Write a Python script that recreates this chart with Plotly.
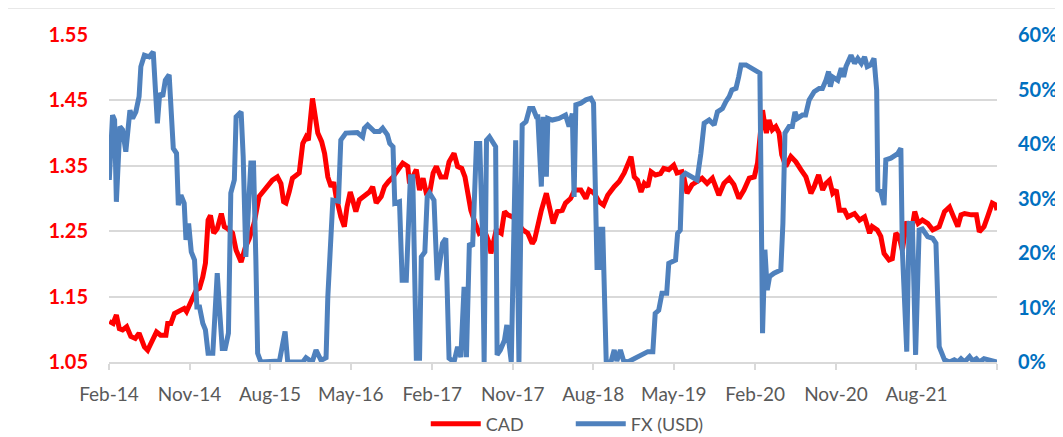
import plotly.graph_objects as go

# ---------------- data ----------------
cad_dates = [
    "2014-02-02", "2014-02-15", "2014-02-26", "2014-03-08", "2014-03-19", "2014-04-02", "2014-04-16",
    "2014-05-01", "2014-05-14", "2014-06-01", "2014-06-12", "2014-06-26", "2014-07-12", "2014-07-26",
    "2014-08-13", "2014-08-19", "2014-08-30", "2014-09-11", "2014-09-28", "2014-10-14", "2014-10-22",
    "2014-11-07", "2014-11-24", "2014-12-05", "2014-12-16", "2014-12-25", "2015-01-03", "2015-01-11",
    "2015-01-22", "2015-02-03", "2015-02-17", "2015-02-27", "2015-03-10", "2015-03-27", "2015-04-08",
    "2015-04-25", "2015-05-09", "2015-05-22", "2015-06-08", "2015-06-25", "2015-07-11", "2015-07-22",
    "2015-08-09", "2015-08-26", "2015-09-07", "2015-09-16", "2015-09-24", "2015-10-05", "2015-10-16",
    "2015-11-08", "2015-11-20", "2015-12-01", "2015-12-09", "2015-12-23", "2016-01-01", "2016-01-10",
    "2016-01-23", "2016-02-02", "2016-02-13", "2016-02-24", "2016-03-04", "2016-03-12", "2016-03-28",
    "2016-04-09", "2016-04-18", "2016-04-29", "2016-05-07", "2016-05-18", "2016-05-30", "2016-06-16",
    "2016-07-03", "2016-07-14", "2016-07-26", "2016-08-12", "2016-08-23", "2016-09-06", "2016-09-21",
    "2016-10-08", "2016-10-24", "2016-11-10", "2016-11-16", "2016-11-27", "2016-12-09", "2016-12-20",
    "2017-01-01", "2017-01-12", "2017-01-23", "2017-02-04", "2017-02-15", "2017-03-02", "2017-03-19",
    "2017-03-30", "2017-04-16", "2017-04-28", "2017-05-12", "2017-05-23", "2017-06-01", "2017-06-12",
    "2017-06-27", "2017-07-10", "2017-07-27", "2017-08-14", "2017-08-19", "2017-09-06", "2017-09-23",
    "2017-10-04", "2017-10-15", "2017-11-01", "2017-11-18", "2017-12-05", "2017-12-22", "2018-01-06",
    "2018-01-14", "2018-01-25", "2018-02-06", "2018-02-23", "2018-03-04", "2018-03-18", "2018-04-01",
    "2018-04-18", "2018-04-29", "2018-05-16", "2018-05-30", "2018-06-20", "2018-07-07", "2018-07-18",
    "2018-08-04", "2018-08-21", "2018-09-05", "2018-09-19", "2018-10-11", "2018-10-28", "2018-11-14",
    "2018-12-01", "2018-12-07", "2018-12-18", "2018-12-29", "2019-01-10", "2019-01-21", "2019-02-02",
    "2019-02-13", "2019-02-28", "2019-03-17", "2019-03-28", "2019-04-14", "2019-05-01", "2019-05-12",
    "2019-05-29", "2019-06-04", "2019-06-15", "2019-07-02", "2019-07-19", "2019-08-05", "2019-08-22",
    "2019-09-09", "2019-10-01", "2019-10-18", "2019-11-05", "2019-11-21", "2019-12-08", "2019-12-25",
    "2020-01-12", "2020-01-29", "2020-02-09", "2020-02-26", "2020-03-02", "2020-03-10", "2020-03-19",
    "2020-03-30", "2020-04-11", "2020-04-22", "2020-05-01", "2020-05-15", "2020-06-01", "2020-06-18",
    "2020-07-05", "2020-07-22", "2020-08-08", "2020-08-19", "2020-09-03", "2020-09-17", "2020-09-28",
    "2020-10-10", "2020-10-21", "2020-11-02", "2020-11-13", "2020-11-30", "2020-12-11", "2021-01-03",
    "2021-01-20", "2021-02-06", "2021-02-23", "2021-03-04", "2021-03-21", "2021-04-02", "2021-04-13",
    "2021-04-30", "2021-05-11", "2021-05-23", "2021-06-03", "2021-06-14", "2021-06-29", "2021-07-13",
    "2021-07-26", "2021-08-07", "2021-08-21", "2021-09-08", "2021-09-25", "2021-10-17", "2021-11-04",
    "2021-11-21", "2021-12-02", "2021-12-19", "2021-12-30", "2022-01-11", "2022-02-03", "2022-02-20",
    "2022-03-02", "2022-03-18", "2022-03-30", "2022-04-15", "2022-04-27", "2022-05-01",
]
cad_values = [
    1.112, 1.109, 1.122, 1.101, 1.099, 1.104, 1.089,
    1.086, 1.094, 1.073, 1.068, 1.081, 1.096, 1.091,
    1.091, 1.109, 1.109, 1.124, 1.129, 1.132, 1.127,
    1.145, 1.160, 1.163, 1.180, 1.201, 1.267, 1.274,
    1.247, 1.254, 1.277, 1.257, 1.254, 1.247, 1.221,
    1.203, 1.225, 1.238, 1.262, 1.303, 1.313, 1.318,
    1.328, 1.333, 1.323, 1.295, 1.293, 1.310, 1.331,
    1.339, 1.384, 1.394, 1.389, 1.453, 1.420, 1.400,
    1.387, 1.369, 1.333, 1.318, 1.325, 1.303, 1.272,
    1.257, 1.287, 1.310, 1.298, 1.280, 1.298, 1.303,
    1.310, 1.318, 1.293, 1.303, 1.318, 1.326, 1.333,
    1.344, 1.354, 1.349, 1.323, 1.333, 1.344, 1.313,
    1.331, 1.308, 1.308, 1.339, 1.349, 1.333, 1.333,
    1.356, 1.369, 1.349, 1.346, 1.333, 1.308, 1.282,
    1.262, 1.247, 1.252, 1.231, 1.216, 1.252, 1.247,
    1.280, 1.275, 1.272, 1.262, 1.252, 1.247, 1.231,
    1.237, 1.262, 1.282, 1.308, 1.287, 1.262, 1.280,
    1.282, 1.293, 1.300, 1.313, 1.313, 1.300, 1.313,
    1.308, 1.295, 1.290, 1.305, 1.318, 1.326, 1.339,
    1.356, 1.364, 1.333, 1.328, 1.310, 1.323, 1.318,
    1.341, 1.336, 1.338, 1.346, 1.344, 1.351, 1.339,
    1.341, 1.333, 1.308, 1.321, 1.326, 1.331, 1.323,
    1.331, 1.305, 1.323, 1.331, 1.321, 1.300, 1.313,
    1.331, 1.333, 1.354, 1.435, 1.420, 1.400, 1.420,
    1.405, 1.410, 1.400, 1.367, 1.349, 1.364, 1.356,
    1.344, 1.333, 1.308, 1.318, 1.336, 1.313, 1.323,
    1.328, 1.308, 1.313, 1.282, 1.282, 1.272, 1.277,
    1.267, 1.272, 1.247, 1.257, 1.252, 1.242, 1.216,
    1.206, 1.208, 1.247, 1.242, 1.221, 1.265, 1.244,
    1.280, 1.262, 1.267, 1.262, 1.252, 1.257, 1.280,
    1.287, 1.275, 1.257, 1.275, 1.277, 1.275, 1.275,
    1.249, 1.257, 1.272, 1.293, 1.290, 1.282,
]

fx_dates = [
    "2014-02-02", "2014-02-13", "2014-02-20", "2014-02-26", "2014-03-10", "2014-03-19", "2014-03-30",
    "2014-04-13", "2014-04-22", "2014-05-03", "2014-05-14", "2014-05-20", "2014-06-01", "2014-06-17",
    "2014-07-01", "2014-07-10", "2014-07-15", "2014-07-23", "2014-08-02", "2014-08-11", "2014-08-24",
    "2014-09-07", "2014-09-18", "2014-09-24", "2014-10-03", "2014-10-14", "2014-10-20", "2014-10-29",
    "2014-11-07", "2014-11-18", "2014-11-26", "2014-12-05", "2014-12-16", "2014-12-25", "2015-01-03",
    "2015-01-19", "2015-02-03", "2015-02-11", "2015-02-20", "2015-03-02", "2015-03-13", "2015-03-21",
    "2015-04-02", "2015-04-08", "2015-04-16", "2015-04-25", "2015-05-02", "2015-05-11", "2015-05-28",
    "2015-06-06", "2015-06-14", "2015-06-20", "2015-07-01", "2015-09-02", "2015-09-21", "2015-09-30",
    "2015-11-20", "2015-12-01", "2015-12-22", "2016-01-04", "2016-01-21", "2016-02-07", "2016-02-13",
    "2016-02-24", "2016-03-01", "2016-03-20", "2016-03-28", "2016-04-14", "2016-05-01", "2016-05-23",
    "2016-06-10", "2016-06-16", "2016-06-27", "2016-07-03", "2016-07-20", "2016-08-06", "2016-08-17",
    "2016-09-02", "2016-09-10", "2016-09-21", "2016-09-27", "2016-10-13", "2016-10-22", "2016-11-05",
    "2016-11-19", "2016-11-27", "2016-12-09", "2016-12-20", "2016-12-26", "2017-01-07", "2017-01-15",
    "2017-01-23", "2017-02-07", "2017-02-18", "2017-02-27", "2017-03-08", "2017-03-19", "2017-03-30",
    "2017-04-16", "2017-04-28", "2017-05-09", "2017-05-20", "2017-05-28", "2017-06-07", "2017-06-18",
    "2017-07-01", "2017-07-12", "2017-07-21", "2017-07-27", "2017-08-04", "2017-08-14", "2017-08-25",
    "2017-09-04", "2017-09-09", "2017-09-20", "2017-10-04", "2017-10-12", "2017-10-27", "2017-11-11",
    "2017-11-22", "2017-12-03", "2017-12-16", "2017-12-28", "2018-01-09", "2018-01-20", "2018-01-25",
    "2018-02-06", "2018-02-12", "2018-02-23", "2018-02-28", "2018-03-15", "2018-04-07", "2018-04-29",
    "2018-05-11", "2018-05-22", "2018-05-28", "2018-06-03", "2018-06-20", "2018-07-07", "2018-07-24",
    "2018-08-02", "2018-08-14", "2018-08-21", "2018-08-27", "2018-09-02", "2018-09-14", "2018-09-30",
    "2018-10-11", "2018-10-20", "2018-11-01", "2018-11-12", "2018-11-26", "2018-12-18", "2019-01-10",
    "2019-02-02", "2019-02-19", "2019-02-27", "2019-03-11", "2019-03-22", "2019-04-07", "2019-04-14",
    "2019-05-07", "2019-05-14", "2019-05-23", "2019-05-29", "2019-06-10", "2019-07-02", "2019-07-19",
    "2019-08-01", "2019-08-12", "2019-08-29", "2019-09-15", "2019-09-26", "2019-10-13", "2019-10-25",
    "2019-11-05", "2019-11-14", "2019-11-28", "2019-12-07", "2019-12-15", "2020-01-01", "2020-01-18",
    "2020-02-09", "2020-02-17", "2020-02-26", "2020-03-05", "2020-03-13", "2020-03-21", "2020-04-05",
    "2020-04-28", "2020-05-05", "2020-05-12", "2020-05-26", "2020-06-06", "2020-06-15", "2020-06-23",
    "2020-07-10", "2020-07-21", "2020-08-02", "2020-08-19", "2020-09-05", "2020-09-16", "2020-09-28",
    "2020-10-07", "2020-10-13", "2020-10-21", "2020-11-07", "2020-11-19", "2020-11-27", "2020-12-05",
    "2020-12-22", "2021-01-03", "2021-01-14", "2021-01-26", "2021-02-06", "2021-02-15", "2021-02-27",
    "2021-03-10", "2021-03-19", "2021-03-23", "2021-04-02", "2021-04-13", "2021-04-19", "2021-05-06",
    "2021-05-23", "2021-05-30", "2021-06-09", "2021-06-14", "2021-06-29", "2021-07-07", "2021-07-18",
    "2021-07-29", "2021-08-10", "2021-08-21", "2021-09-08", "2021-09-25", "2021-10-06", "2021-10-17",
    "2021-11-04", "2021-11-21", "2021-12-07", "2021-12-19", "2021-12-30", "2022-01-11", "2022-01-28",
    "2022-02-08", "2022-02-20", "2022-03-02", "2022-03-18", "2022-04-04", "2022-04-21", "2022-05-01",
]
fx_values = [  # percent
    33.4, 45.3, 44.4, 29.4, 43.2, 42.6, 38.6,
    46.2, 44.7, 45.9, 48.7, 54.2, 56.3, 56.0,
    56.9, 49.9, 43.8, 49.3, 48.7, 51.7, 52.7,
    39.2, 38.3, 28.8, 30.6, 29.1, 22.4, 25.4,
    20.2, 18.7, 10.1, 10.1, 7.1, 5.9, 1.6,
    1.6, 16.3, 9.5, 2.5, 2.5, 5.3, 31.0,
    33.4, 45.0, 45.6, 45.9, 37.7, 19.3, 36.5,
    36.5, 18.7, 1.6, 0.0, 0.2, 5.6, 0.0,
    0.0, 0.8, 0.0, 2.2, 0.3, 0.8, 12.0,
    23.6, 29.7, 29.5, 40.7, 42.0, 42.1, 42.1,
    41.3, 42.9, 43.5, 43.2, 42.3, 42.3, 42.9,
    41.7, 40.1, 39.5, 29.1, 29.4, 15.0, 15.0,
    34.0, 34.0, 0.7, 0.7, 19.3, 20.2, 30.3,
    31.0, 29.7, 15.0, 18.7, 21.8, 22.7, 0.7,
    0.0, 2.8, 0.9, 13.8, 0.9, 21.8, 21.2,
    40.1, 40.1, 24.2, 0.0, 40.7, 41.3, 40.1,
    39.5, 1.3, 2.2, 4.0, 6.8, 0.0, 40.7,
    0.0, 43.5, 44.1, 46.5, 46.5, 45.0, 45.0,
    32.2, 45.0, 34.0, 44.7, 44.4, 44.7, 45.3,
    43.2, 45.6, 30.3, 47.2, 47.5, 48.1, 48.4,
    47.5, 16.9, 24.8, 16.9, 24.8, 0.0, 0.0,
    2.2, 0.2, 2.2, 0.2, 0.0, 0.7, 1.3,
    1.9, 1.9, 8.9, 9.5, 12.6, 12.6, 18.1,
    18.7, 23.6, 24.2, 34.0, 34.6, 34.0, 33.4,
    38.3, 43.8, 44.4, 43.5, 45.9, 46.5, 47.8,
    48.7, 49.9, 50.2, 52.3, 54.5, 54.5, 53.9,
    53.3, 53.0, 5.3, 20.6, 13.2, 15.7, 16.3,
    16.9, 25.4, 42.0, 43.2, 43.2, 45.9, 44.7,
    45.3, 45.3, 48.1, 49.6, 50.2, 50.2, 51.7,
    53.3, 50.5, 52.3, 51.7, 53.9, 52.3, 54.2,
    56.3, 54.8, 55.7, 54.8, 56.0, 54.2, 54.5,
    55.7, 49.9, 31.6, 31.3, 28.8, 37.1, 37.4,
    38.0, 38.3, 39.2, 20.6, 1.9, 25.4, 25.4,
    1.3, 24.2, 24.4, 23.0, 22.7, 21.8, 2.8,
    0.4, 0.0, 0.4, 0.0, 0.6, 0.0, 1.0,
    0.2, 0.6, 0.0, 0.6, 0.3, 0.0, 0.0,
]

x_tick_dates = ["2014-02-01", "2014-11-01", "2015-08-01", "2016-05-01", "2017-02-01", "2017-11-01",
                "2018-08-01", "2019-05-01", "2020-02-01", "2020-11-01", "2021-08-01", "2022-05-01"]
x_tick_labels = ["Feb-14", "Nov-14", "Aug-15", "May-16", "Feb-17", "Nov-17",
                 "Aug-18", "May-19", "Feb-20", "Nov-20", "Aug-21", ""]

# ---------------- figure ----------------
FONT = "Lato"
fig = go.Figure()
fig.add_trace(go.Scatter(
    x=cad_dates, y=cad_values, name="CAD", mode="lines",
    line=dict(color="#FF0000", width=5), yaxis="y"))
fig.add_trace(go.Scatter(
    x=fx_dates, y=[v / 100 for v in fx_values], name="FX (USD)", mode="lines",
    line=dict(color="#4F81BD", width=5), yaxis="y2"))

# the page body adds an 8px offset (top/left), so the figure is 8px smaller
fig.update_layout(
    width=1055, height=429,
    margin=dict(l=101, r=66, t=27, b=75, autoexpand=False),
    paper_bgcolor="white", plot_bgcolor="white",
    font=dict(family=FONT, size=19, color="#595959"),
    showlegend=True,
    legend=dict(orientation="h", x=0.52, xanchor="center", y=-0.19, yanchor="middle",
                font=dict(family=FONT, size=18, color="#595959"), itemwidth=50,
                entrywidth=80, entrywidthmode="pixels",
                traceorder="normal"),
    xaxis=dict(
        type="date", range=["2014-02-01", "2022-05-01"],
        tickvals=x_tick_dates, ticktext=x_tick_labels,
        ticks="outside", ticklen=6, tickcolor="#D9D9D9", tickwidth=1.5,
        showline=True, linecolor="#D9D9D9", linewidth=1.5,
        showgrid=False, zeroline=False,
        tickfont=dict(family=FONT, size=19, color="#595959"),
        ticklabelstandoff=8,
    ),
    yaxis=dict(
        range=[1.05, 1.55], tick0=1.05, dtick=0.1, tickformat=".2f",
        showgrid=True, gridcolor="#D9D9D9", gridwidth=1.5, zeroline=False,
        ticks="", showline=False,
        tickfont=dict(family=FONT, size=20, color="#FF0000", weight="bold"),
        ticklabelstandoff=20,
    ),
    yaxis2=dict(
        range=[0, 0.6], dtick=0.1, tickformat=".0%", overlaying="y", side="right",
        showgrid=False, zeroline=False, ticks="", showline=False,
        tickfont=dict(family=FONT, size=20, color="#0070C0", weight="bold"),
        ticklabelstandoff=20,
    ),
    shapes=[
        dict(type="line", xref="paper", yref="paper", x0=-0.13, x1=1.08, y0=1.0826, y1=1.0826,
             line=dict(color="#E0E0E0", width=1.5)),
    ],
)

fig.write_html("out.html")
